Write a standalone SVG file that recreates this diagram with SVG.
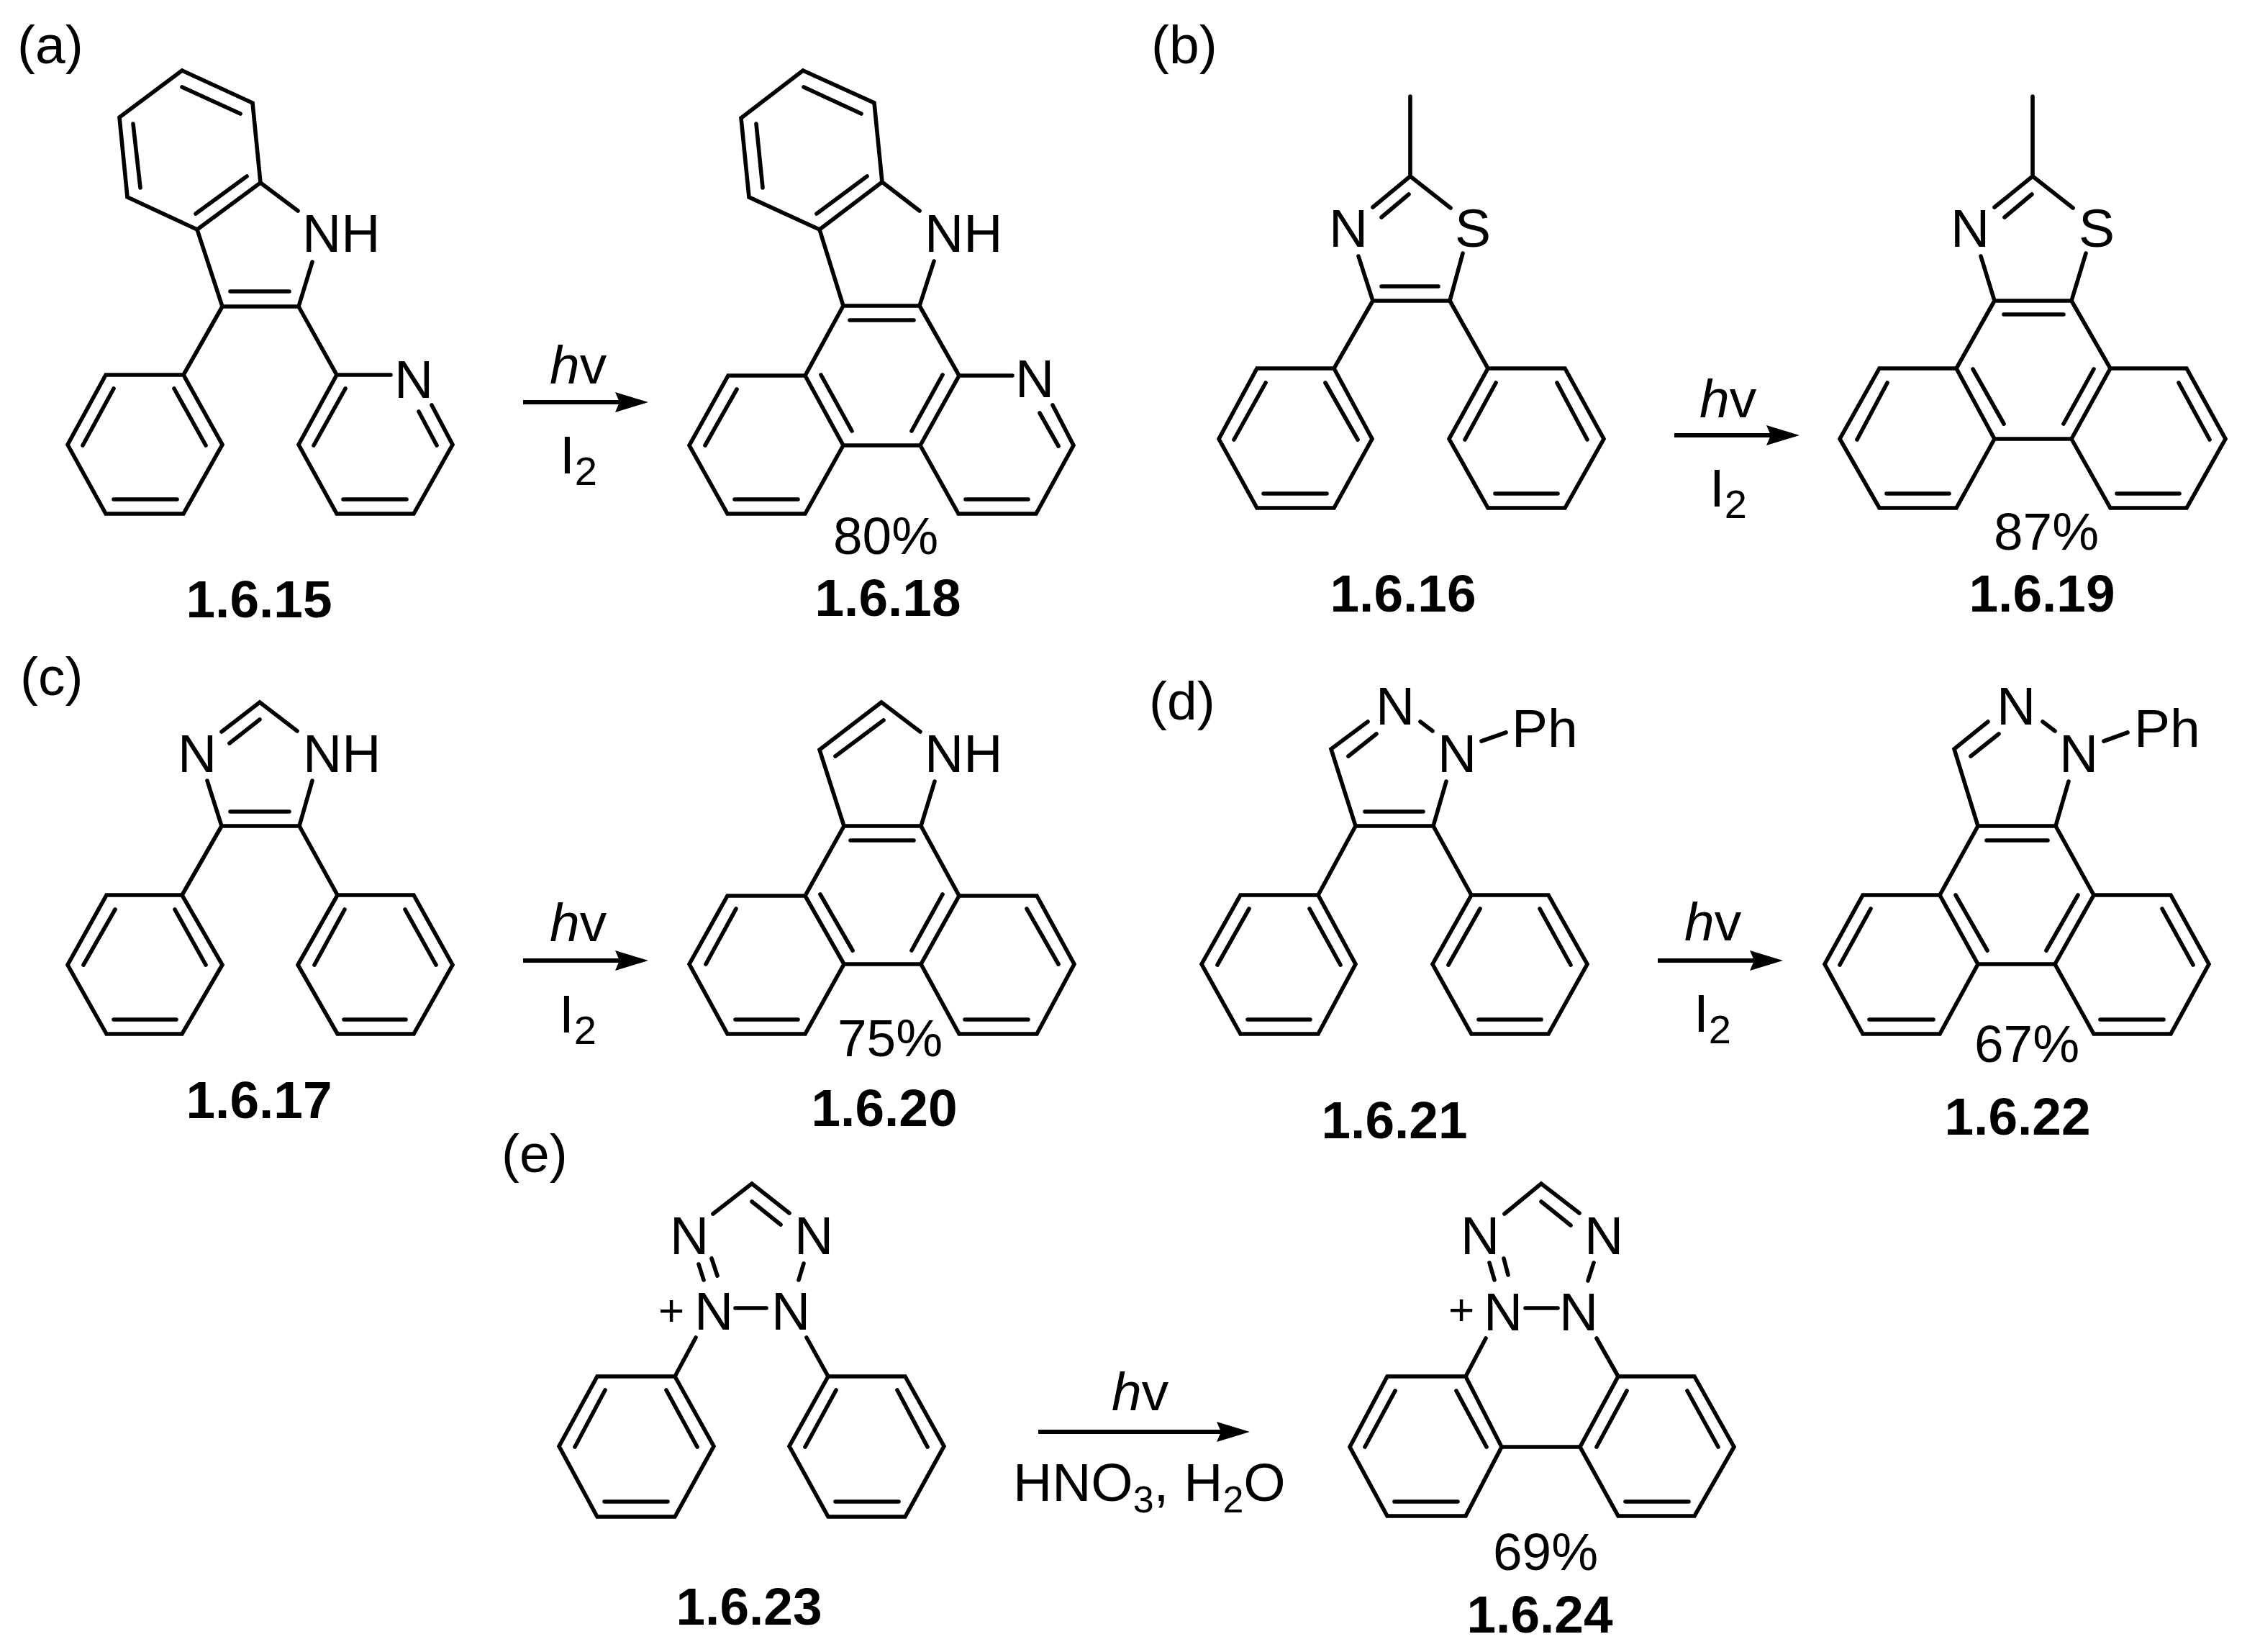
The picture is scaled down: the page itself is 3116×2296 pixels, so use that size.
<svg xmlns="http://www.w3.org/2000/svg" width="3116" height="2296" viewBox="0 0 3116 2296">
<style>
text{font-family:"Liberation Sans",Arial,sans-serif;font-size:75px;fill:#000}
.id{font-weight:bold;text-anchor:middle;font-size:73px}
.c{text-anchor:middle;font-size:73px}
.sub{font-size:56px}
.sube{font-size:52px}
.h{font-style:italic}
.p{font-size:62px;text-anchor:middle}
.bond{fill:none;stroke:#000;stroke-width:5.6;stroke-linecap:round;stroke-linejoin:miter}
.arrow{fill:none;stroke:#000;stroke-width:6}
</style>
<defs>
<marker id="head" markerUnits="userSpaceOnUse" markerWidth="48" markerHeight="30" refX="24" refY="14" orient="auto"><path d="M0 0L46 14L0 28L6 14Z" fill="#000"/></marker>
</defs>
<rect width="3116" height="2296" fill="#fff"/>
<g id="connectors">
<path class="arrow" d="M727 559H879" marker-end="url(#head)"/>
<path class="arrow" d="M2327 605H2479" marker-end="url(#head)"/>
<path class="arrow" d="M727 1335H879" marker-end="url(#head)"/>
<path class="arrow" d="M2304 1335H2456" marker-end="url(#head)"/>
<path class="arrow" d="M1443 1990H1715" marker-end="url(#head)"/>
</g>
<g id="labels">
<text x="24" y="88">(a)</text>
<text x="1600" y="88">(b)</text>
<text x="28" y="966">(c)</text>
<text x="1597" y="1000">(d)</text>
<text x="697" y="1629">(e)</text>
</g>
<g id="conditions-a"><text x="764" y="533"><tspan class="h">h</tspan>v</text><text x="778" y="658">I<tspan class="sub" dy="16">2</tspan></text></g>
<g id="conditions-b"><text x="2362" y="580"><tspan class="h">h</tspan>v</text><text x="2376" y="704">I<tspan class="sub" dy="16">2</tspan></text></g>
<g id="conditions-c"><text x="764" y="1308"><tspan class="h">h</tspan>v</text><text x="777" y="1435">I<tspan class="sub" dy="16">2</tspan></text></g>
<g id="conditions-d"><text x="2341" y="1307"><tspan class="h">h</tspan>v</text><text x="2354" y="1434">I<tspan class="sub" dy="16">2</tspan></text></g>
<g id="conditions-e"><text x="1545" y="1960"><tspan class="h">h</tspan>v</text><text x="1408" y="2086">HNO<tspan class="sube" dy="16">3</tspan><tspan dy="-16">, H</tspan><tspan class="sube" dy="16">2</tspan><tspan dy="-16">O</tspan></text></g>

<g id="mol-1-6-15">
<path class="bond" d="M253 98L351 143L362 254L274 319L177 274L166 163ZM253 121L334 158M185 172L195 261M343 245L272 297M362 254L414 293M274 319L309 426H415M320 405H402M415 426L434 364M309 426L255 521M415 426L468 521M147 521H255L309 618L255 714H147L94 618ZM242 540L286 619M158 540L115 619M158 694H246M543 521H468L415 618L468 714H575L629 618L600 563M582 572L607 619M480 540L436 619M477 694H565"/>
<text x="420" y="350">NH</text><text x="548" y="553">N</text><text class="id" x="360" y="858">1.6.15</text>
</g>
<g id="mol-1-6-18">
<path class="bond" d="M1116 98L1215 143L1226 253L1139 319L1041 274L1030 164ZM1117 121L1197 158M1051 172L1060 261M1205 245L1135 297M1226 253L1278 293M1139 319L1172 425H1278M1181 445H1270M1278 425L1298 363M1172 425L1119 522L1172 619H1279L1333 522L1278 425M1141 521L1184 599M1310 521L1267 599M1119 522H1012L958 619L1011 714H1119L1172 619M1024 541L980 619M1021 694H1109M1407 522H1333M1279 619L1332 714H1440L1492 619L1463 563M1445 574L1471 620M1342 694H1429"/>
<text x="1285" y="350">NH</text><text x="1411" y="552">N</text><text class="c" x="1231" y="770">80%</text><text class="id" x="1234" y="856">1.6.18</text>
</g>
<g id="mol-1-6-16">
<path class="bond" d="M1960 134V245L1908 288M1958 270L1920 302M1960 245L2016 289M1888 356L1908 418H2015L2033 352M1920 398H1999M1908 418L1854 512M2015 418L2068 512M1747 512H1854L1907 610L1854 706H1747L1694 610ZM1842 532L1887 611M1759 532L1715 611M1756 686H1844M2068 512H2175L2229 610L2175 706H2068L2014 610ZM2079 532L2036 611M2164 532L2206 611M2078 686H2165"/>
<text x="1847" y="343">N</text><text x="2022" y="343">S</text><text class="id" x="1950" y="850">1.6.16</text>
</g>
<g id="mol-1-6-19">
<path class="bond" d="M2825 134V245L2772 288M2824 270L2786 302M2825 245L2881 289M2753 356L2772 418H2879L2899 352M2785 437H2868M2772 418L2719 512L2772 610H2879L2933 512L2879 418M2742 513L2785 589M2910 513L2868 589M2719 512H2612L2557 610L2612 706H2719L2772 610M2623 532L2581 611M2622 686H2709M2933 512H3039L3093 610L3039 706H2933L2879 610M3028 532L3071 611M2942 686H3029"/>
<text x="2711" y="343">N</text><text x="2889" y="343">S</text><text class="c" x="2844" y="764">87%</text><text class="id" x="2838" y="850">1.6.19</text>
</g>
<g id="mol-1-6-17">
<path class="bond" d="M308 1017L361 976L413 1016M361 1000L319 1033M288 1085L308 1148H416L434 1085M320 1128H402M308 1148L253 1244M416 1148L469 1244M148 1244H253L309 1341L253 1437H148L94 1341ZM243 1264L286 1341M160 1264L116 1341M158 1417H245M469 1244H575L629 1341L575 1437H469L414 1341ZM479 1264L437 1341M563 1264L606 1341M478 1417H564"/>
<text x="247" y="1073">N</text><text x="421" y="1073">NH</text><text class="id" x="360" y="1554">1.6.17</text>
</g>
<g id="mol-1-6-20">
<path class="bond" d="M1279 1017L1225 976L1139 1042L1173 1148H1280L1299 1086M1228 1001L1161 1051M1182 1168H1270M1173 1148L1119 1245L1173 1340H1280L1333 1245L1280 1148M1140 1243L1185 1321M1310 1243L1267 1321M1119 1245H1011L958 1340L1011 1437H1119L1173 1340M1023 1263L981 1340M1022 1417H1109M1333 1245H1441L1493 1340L1441 1437H1333L1280 1340M1427 1263L1471 1340M1341 1417H1429"/>
<text x="1285" y="1073">NH</text><text class="c" x="1237" y="1468">75%</text><text class="id" x="1229" y="1565">1.6.20</text>
</g>
<g id="mol-1-6-21">
<path class="bond" d="M1901 1003L1850 1041L1884 1148H1992L2010 1086M1913 1020L1874 1051M1974 1003L1991 1016M2059 1030L2093 1018M1897 1128H1978M1884 1148L1832 1244M1992 1148L2045 1244M1724 1244H1832L1884 1340L1832 1437H1724L1670 1340ZM1820 1263L1863 1341M1736 1263L1692 1341M1734 1417H1821M2045 1244H2152L2206 1340L2152 1437H2045L1991 1340ZM2057 1263L2013 1341M2140 1263L2183 1341M2055 1417H2142"/>
<text x="1912" y="1007">N</text><text x="1998" y="1073">N</text><text x="2101" y="1038">Ph</text><text class="id" x="1938" y="1582">1.6.21</text>
</g>
<g id="mol-1-6-22">
<path class="bond" d="M2763 1003L2716 1041L2749 1148H2857L2875 1086M2778 1020L2739 1051M2839 1003L2856 1016M2924 1030L2957 1018M2761 1168H2846M2749 1148L2696 1244L2749 1340H2856L2910 1244L2857 1148M2718 1244L2762 1321M2888 1244L2844 1321M2696 1244H2589L2536 1340L2589 1437H2696L2749 1340M2600 1263L2557 1341M2598 1417H2687M2910 1244H3017L3070 1340L3017 1437H2910L2856 1340M3005 1263L3048 1341M2919 1417H3007"/>
<text x="2775" y="1007">N</text><text x="2862" y="1073">N</text><text x="2966" y="1038">Ph</text><text class="c" x="2817" y="1476">67%</text><text class="id" x="2804" y="1577">1.6.22</text>
</g>
<g id="mol-1-6-23">
<path class="bond" d="M991 1687L1045 1645L1097 1686M1045 1670L1085 1702M971 1757L978 1779M989 1749L997 1773M1117 1756L1110 1779M1022 1818H1065M967 1859L938 1913M1121 1859L1151 1913M830 1913H938L992 2010L938 2108H830L777 2010ZM926 1932L969 2011M841 1932L799 2011M840 2087H928M1151 1913H1258L1312 2010L1258 2108H1151L1097 2010ZM1162 1932L1119 2011M1247 1932L1289 2011M1161 2087H1249"/>
<text x="931" y="1743">N</text><text x="1104" y="1743">N</text><text x="965" y="1848">N</text><text x="1072" y="1848">N</text><text class="p" x="933" y="1842">+</text><text class="id" x="1041" y="2258">1.6.23</text>
</g>
<g id="mol-1-6-24">
<path class="bond" d="M2091 1687L2142 1645L2195 1686M2142 1670L2183 1703M2070 1755L2077 1779M2090 1749L2096 1772M2215 1755L2207 1780M2120 1818H2165M2065 1860L2037 1913M2219 1860L2249 1913M1928 1913H2037L2087 2011L2037 2107H1928L1876 2011ZM2024 1933L2066 2011M1939 1933L1897 2011M1938 2087H2026M2087 2011H2196M2249 1913H2355L2410 2011L2355 2107H2249L2196 2011ZM2261 1933L2219 2011M2345 1933L2388 2011M2259 2087H2347"/>
<text x="2030" y="1743">N</text><text x="2202" y="1743">N</text><text x="2062" y="1849">N</text><text x="2167" y="1849">N</text><text class="p" x="2031" y="1841">+</text><text class="c" x="2148" y="2182">69%</text><text class="id" x="2140" y="2269">1.6.24</text>
</g>
</svg>
